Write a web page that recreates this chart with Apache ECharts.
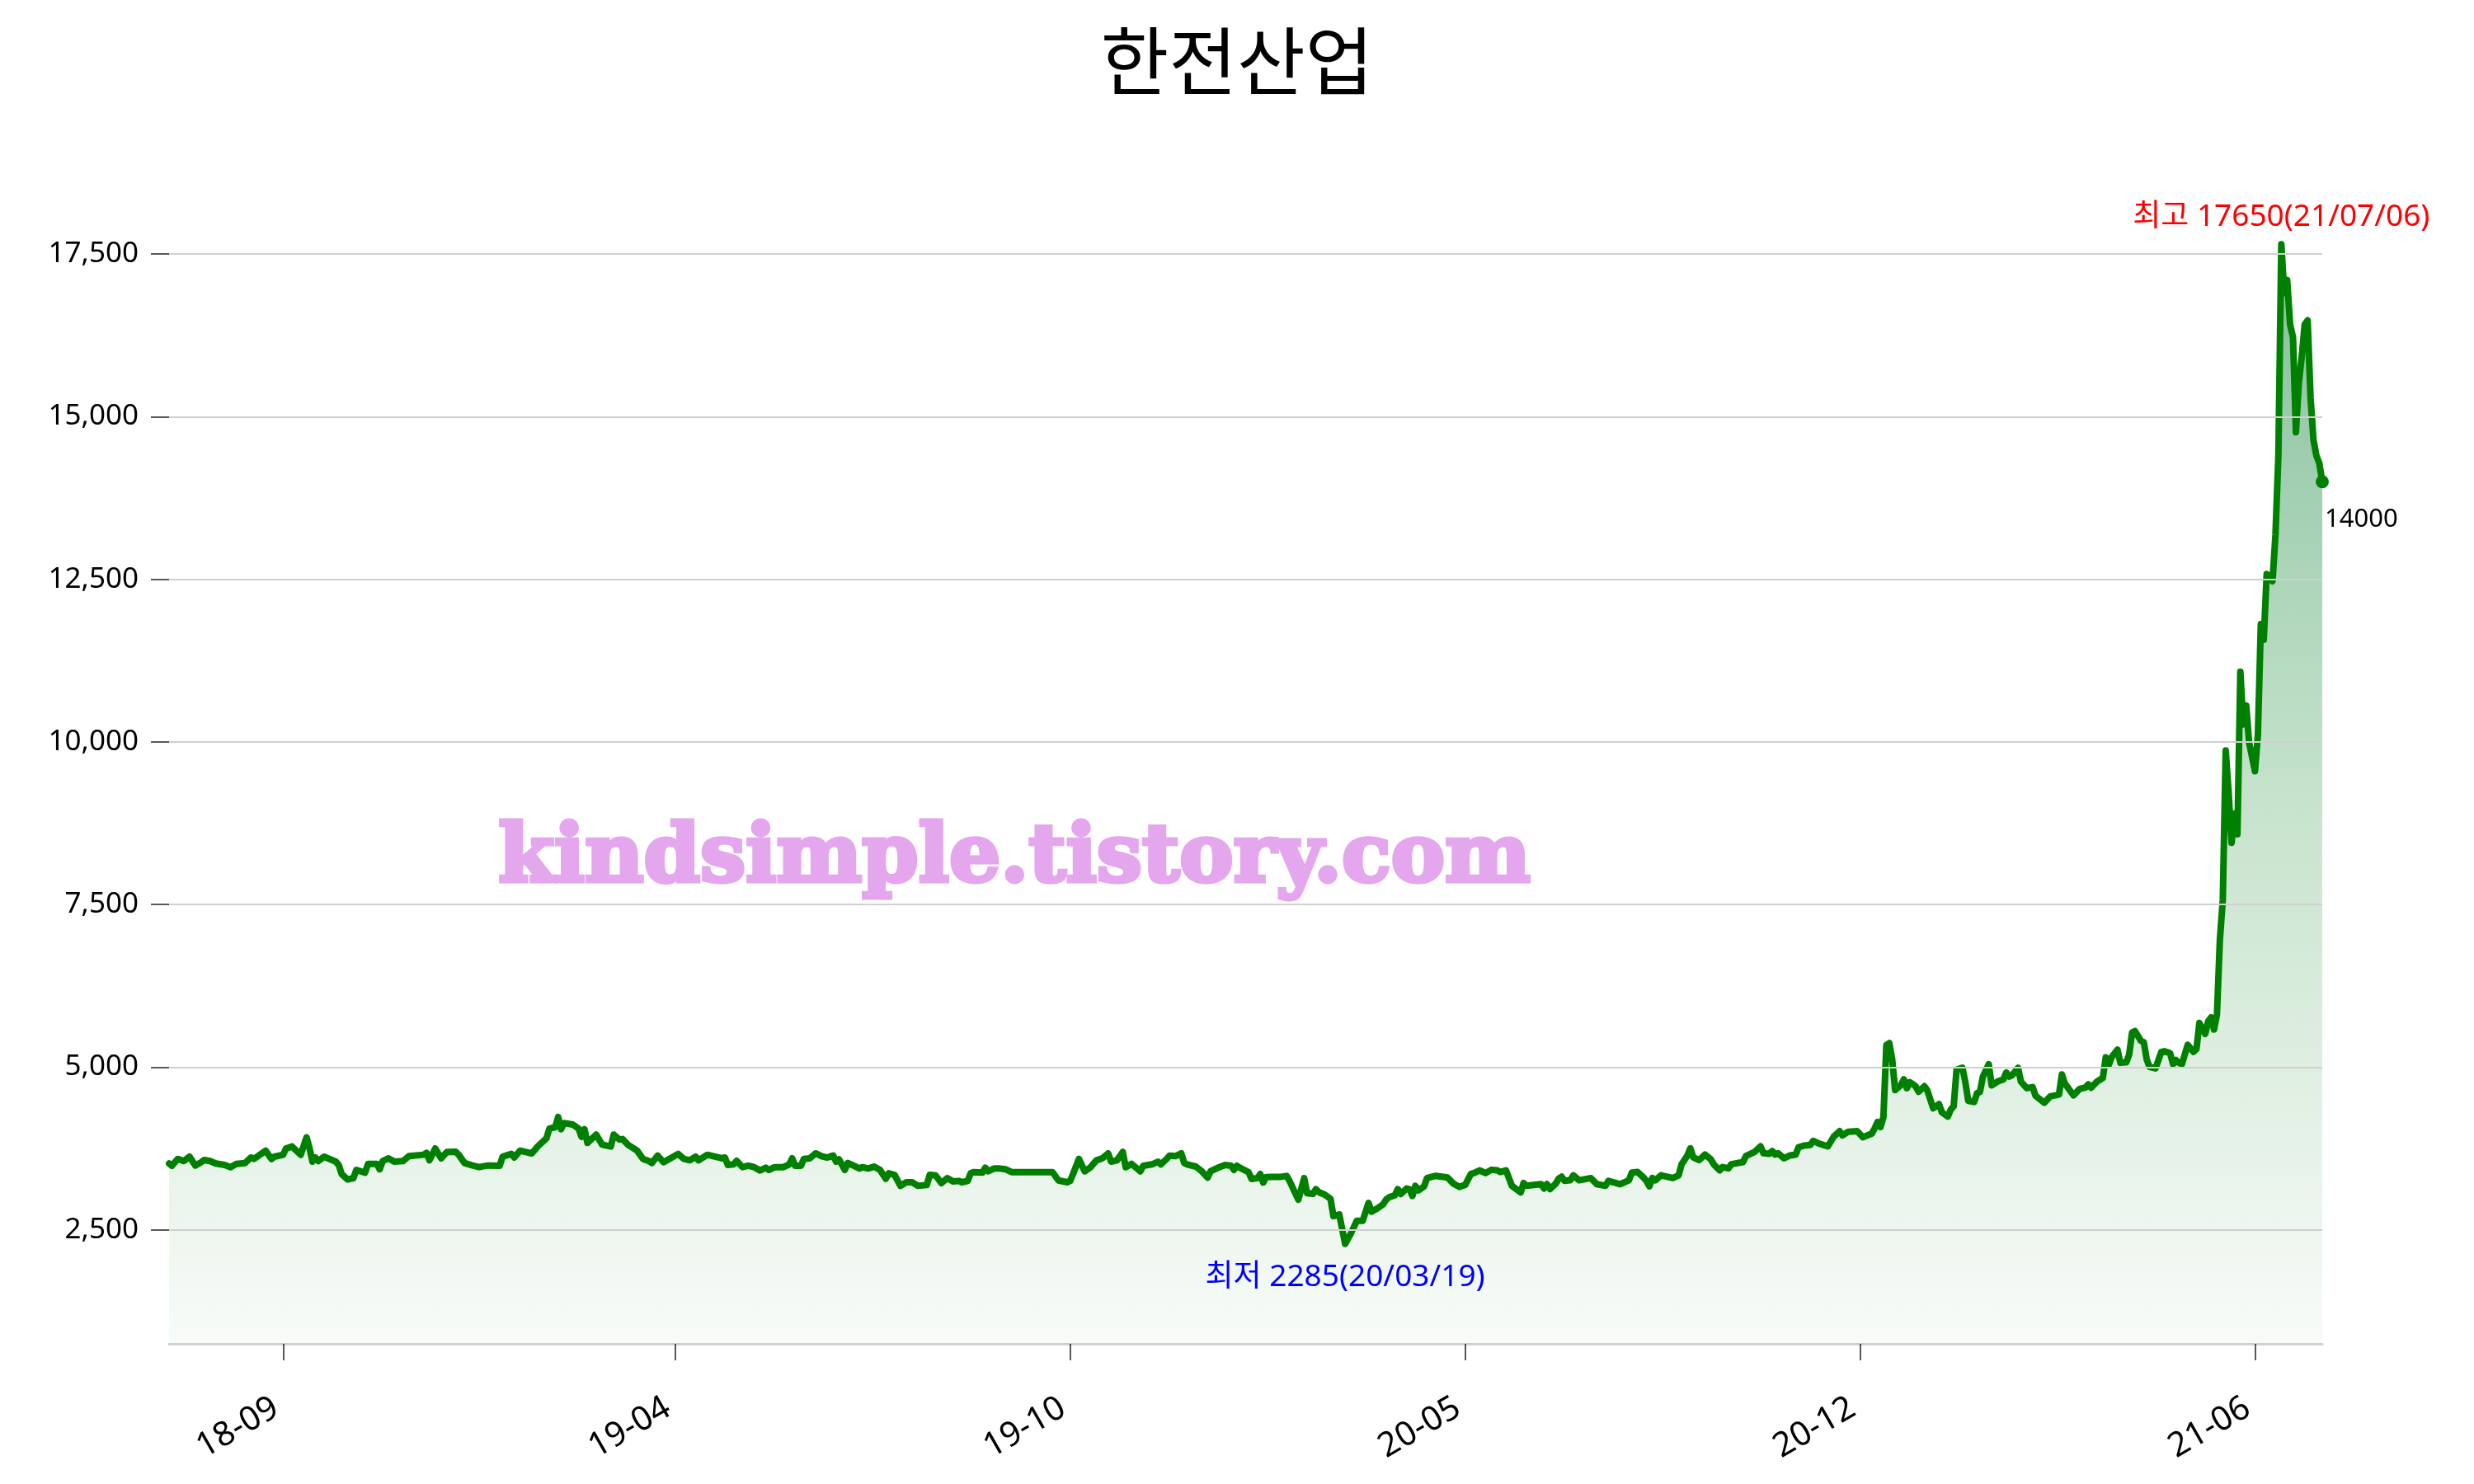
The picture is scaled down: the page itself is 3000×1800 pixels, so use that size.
<!DOCTYPE html>
<html><head><meta charset="utf-8">
<script src="https://cdn.jsdelivr.net/npm/echarts@6/dist/echarts.min.js"></script>
<style>html,body{margin:0;padding:0;background:#fff}#c{width:3000px;height:1800px}</style>
</head><body><div id="c"></div>
<script>
const chartTitle = '한전산업';
const watermark = 'kindsimple.tistory.com';
// trading-day number at each x tick, and its label
const xTickIdx = [39, 173, 308, 443, 578, 713];
const xTickLabels = ['18-09', '19-04', '19-10', '20-05', '20-12', '21-06'];
const yTicks = [2500, 5000, 7500, 10000, 12500, 15000, 17500];
const highDate = '21/07/06';
const lowDate = '20/03/19';

// [trading-day number, close price]
const prices2018 = [[0,3520],[1,3486],[3,3591],[5,3558],[7,3625],[9,3490],[11,3541],[12,3575],[14,3558],[16,3520],
 [19,3498],[21,3465],[23,3515],[26,3528],[28,3613],[29,3591],[31,3655],[33,3718],[35,3591],[36,3625],
 [39,3655],[40,3752],[42,3782],[45,3655],[47,3921],[48,3761],[49,3549],[50,3613],[51,3558],[53,3625],
 [57,3549],[58,3498],[59,3359],[61,3274],[63,3295],[64,3422],[67,3380],[68,3515],[71,3515],[72,3431],
 [73,3558],[75,3600],[77,3549],[80,3558],[82,3634],[87,3655],[88,3684],[89,3570],[91,3752],[93,3600],
 [95,3697],[98,3701],[99,3655],[101,3528],[104,3486],[106,3465],[109,3490],[113,3486],[114,3625],[117,3668],
 [118,3613],[120,3718],[122,3697],[124,3676],[126,3782],[129,3909],[130,4057],[132,4078],[133,4234],[134,4048],
 [135,4141],[138,4120],[140,4057],[141,3930],[142,4048],[143,3837],[146,3964],[148,3811],[151,3782],[152,3964],
 [154,3888],[155,3896],[157,3803],[160,3718],[162,3591],[164,3558],[165,3528],[167,3642],[169,3541],[171,3591],
 [174,3668],[176,3591],[178,3570],[180,3625],[181,3570],[184,3655],[186,3634],[189,3600],[190,3613],[191,3498],
 [193,3507],[194,3562],[196,3465]];
const prices2019 = [[198,3486],[200,3464],[202,3414],[204,3456],[205,3422],[207,3464],[210,3464],[212,3507],[213,3600],[214,3486],
 [216,3486],[217,3591],[219,3600],[221,3676],[223,3634],[225,3612],[227,3642],[228,3549],[229,3583],[231,3422],
 [232,3528],[234,3486],[236,3443],[237,3464],[239,3443],[241,3473],[243,3422],[245,3287],[246,3371],[248,3346],
 [250,3177],[252,3232],[254,3232],[256,3177],[259,3190],[260,3346],[262,3338],[264,3219],[266,3295],[268,3244],
 [270,3253],[271,3232],[273,3253],[274,3371],[275,3388],[278,3380],[279,3456],[280,3401],[282,3443],[284,3443],
 [286,3431],[288,3388],[302,3388],[304,3261],[307,3232],[308,3253],[309,3359],[311,3591],[313,3401],[315,3464],
 [317,3570],[319,3600],[321,3676],[322,3549],[324,3570],[326,3697],[327,3464],[329,3515],[332,3401],[333,3486],
 [336,3507],[338,3549],[339,3507],[341,3591],[342,3642],[344,3634],[346,3676],[347,3528],[348,3507],[351,3473],
 [353,3401],[355,3304],[356,3401],[359,3464],[361,3498],[363,3486],[364,3422],[365,3486],[366,3456],[369,3388],
 [370,3283],[372,3295],[373,3359],[374,3228],[375,3312],[377,3316],[380,3316],[382,3329],[383,3253],[386,2965],
 [388,3295],[389,3063],[391,3054],[392,3126],[393,3080]];
const prices2020 = [[395,3042],[397,2979],[398,2712],[400,2737],[402,2285],[404,2449],[406,2640],[408,2640],[410,2915],[411,2780],
 [413,2831],[415,2894],[416,2966],[417,3000],[419,3034],[420,3127],[421,3051],[423,3136],[424,3127],[425,3021],
 [426,3178],[427,3106],[429,3170],[430,3297],[433,3331],[435,3318],[437,3305],[439,3212],[441,3161],[443,3191],
 [445,3360],[446,3373],[448,3415],[450,3373],[452,3424],[454,3415],[455,3390],[457,3415],[458,3297],[459,3178],
 [462,3076],[463,3220],[464,3178],[469,3203],[470,3136],[471,3203],[472,3127],[474,3212],[475,3288],[476,3318],
 [477,3254],[479,3263],[480,3339],[482,3263],[486,3297],[488,3203],[491,3178],[492,3254],[496,3203],[499,3263],
 [500,3381],[502,3390],[504,3305],[505,3254],[506,3170],[507,3297],[508,3263],[510,3339],[514,3297],[516,3339],
 [517,3509],[519,3644],[520,3754],[521,3614],[523,3572],[525,3657],[527,3585],[528,3509],[530,3415],[531,3466],
 [533,3445],[534,3509],[538,3542],[539,3636],[542,3699],[544,3784],[545,3678],[547,3670],[548,3712],[549,3657],
 [550,3678],[552,3602],[554,3644],[556,3657],[557,3771],[559,3797],[561,3805],[562,3869],[564,3826],[567,3784],
 [569,3932],[571,4017],[572,3953],[574,4009],[577,4017],[579,3924],[582,3980],[583,4060],[584,4160],[585,4080],
 [586,4235],[587,5340],[588,5370],[589,5120],[590,4650]];
const prices2021 = [[592,4729],[593,4814],[594,4678],[595,4771],[597,4708],[598,4623],[600,4708],[601,4644],[603,4369],[605,4432],
 [606,4305],[608,4242],[609,4348],[610,4400],[611,4962],[613,4992],[614,4771],[615,4483],[617,4466],[618,4602],
 [619,4623],[620,4856],[622,5047],[623,4721],[625,4780],[627,4814],[628,4920],[629,4856],[630,4877],[632,4992],
 [633,4780],[634,4729],[635,4678],[637,4695],[638,4560],[641,4454],[643,4551],[646,4581],[647,4890],[648,4750],
 [651,4568],[653,4665],[655,4687],[656,4737],[657,4687],[659,4780],[661,4835],[662,5153],[663,5034],[664,5153],
 [666,5271],[667,5068],[669,5076],[670,5195],[671,5534],[672,5555],[674,5407],[675,5386],[676,5119],[677,5004],
 [679,4983],[681,5237],[682,5246],[684,5216],[685,5047],[686,5110],[687,5068],[688,5047],[690,5343],[692,5237],
 [693,5280],[694,5680],[696,5513],[697,5705],[698,5767],[699,5580],[700,5810],[701,6960],[702,7570],[703,9870],
 [704,9220],[705,8450],[706,8900],[707,8580],[708,11080],[709,10270],[710,10560],[711,9990],[713,9550],[714,10110],
 [715,11810],[716,11570],[717,12580],[719,12470],[720,13180],[721,14400],[722,17650],[723,16900],[724,17100],[725,16420],
 [726,16220],[727,14760],[728,15530],[729,15930],[730,16420],[731,16480],[732,15290],[733,14640],[734,14400],[735,14280],
 [736,14000]];

const data = prices2018.concat(prices2019, prices2020, prices2021);
let hi = data[0], lo = data[0];
data.forEach(p => { if (p[1] > hi[1]) hi = p; if (p[1] < lo[1]) lo = p; });
const last = data[data.length - 1];
const pad = (hi[1] - lo[1]) * 0.1;

const fontNum = "'Noto Sans', 'Noto Sans CJK KR', sans-serif";
const chart = echarts.init(document.getElementById('c'), null, { renderer: 'canvas', width: 3000, height: 1800 });
chart.setOption({
  animation: false,
  backgroundColor: '#ffffff',
  title: {
    text: chartTitle, left: 'center', top: 24,
    textStyle: { fontSize: 90, fontWeight: 'normal', color: '#000', fontFamily: "'Noto Sans CJK KR', sans-serif" }
  },
  grid: { left: 205, right: 184, top: 175, bottom: 170 },
  xAxis: {
    type: 'value', min: 0, max: last[0],
    axisLine: { show: true, onZero: false, lineStyle: { color: '#d3d3d3', width: 3 } },
    axisTick: { show: true, customValues: xTickIdx, length: 20, lineStyle: { color: '#222', width: 1.5 } },
    axisLabel: {
      show: true, customValues: xTickIdx, rotate: 30, fontSize: 41, color: '#000', margin: 70,
      padding: [0, 10, 0, 0], fontFamily: fontNum,
      formatter: v => { const i = xTickIdx.indexOf(v); return i >= 0 ? xTickLabels[i] : ''; }
    },
    splitLine: { show: false }
  },
  yAxis: {
    type: 'value', min: lo[1] - pad, max: hi[1] + pad,
    axisLine: { show: false },
    axisTick: { show: true, customValues: yTicks, length: 22, lineStyle: { color: '#222', width: 1.5 } },
    axisLabel: {
      show: true, customValues: yTicks, fontSize: 35, color: '#000', margin: 37, fontFamily: fontNum,
      formatter: v => Number(v).toLocaleString('en-US')
    },
    splitLine: { show: false }
  },
  series: [{
    type: 'line', data: data, showSymbol: false, symbol: 'none', silent: true,
    lineStyle: { color: '#008000', width: 8, join: 'round', cap: 'round' },
    areaStyle: {
      origin: 'start',
      color: new echarts.graphic.LinearGradient(0, 0, 0, 1, [
        { offset: 0, color: 'rgba(0,120,50,0.68)' },
        { offset: 0.5, color: 'rgba(0,128,30,0.32)' },
        { offset: 1, color: 'rgba(0,128,20,0.04)' }
      ])
    },
    markLine: {
      silent: true, symbol: ['none', 'none'], animation: false,
      label: { show: false },
      lineStyle: { color: '#d0d0d0', width: 2, type: 'solid' },
      data: yTicks.map(v => ({ yAxis: v }))
    },
    markPoint: {
      silent: true, animation: false,
      data: [
        { coord: hi, symbol: 'circle', symbolSize: 1, itemStyle: { color: 'rgba(0,0,0,0)' },
          label: { show: true, position: 'top', distance: 14, formatter: '최고 ' + hi[1] + '(' + highDate + ')', color: '#ff0000', fontSize: 37, fontFamily: fontNum } },
        { coord: lo, symbol: 'circle', symbolSize: 1, itemStyle: { color: 'rgba(0,0,0,0)' },
          label: { show: true, position: 'bottom', distance: 22, formatter: '최저 ' + lo[1] + '(' + lowDate + ')', color: '#0000ff', fontSize: 37, fontFamily: fontNum } },
        { coord: last, symbol: 'circle', symbolSize: 16, itemStyle: { color: '#008000' },
          label: { show: true, position: 'right', distance: 0, offset: [-5, 46], formatter: String(last[1]), color: '#000', fontSize: 31, fontFamily: fontNum } }
      ]
    }
  }],
  graphic: [{
    type: 'text', x: 1230, y: 1044, z: 100, silent: true,
    style: {
      text: watermark, fontSize: 98, fontWeight: 'bold', fontFamily: "'DejaVu Serif', serif",
      fill: '#e4a7ee', stroke: '#e4a7ee', lineWidth: 5,
      align: 'center', verticalAlign: 'middle', textAlign: 'center', textVerticalAlign: 'middle'
    }
  }]
});
</script>
</body></html>
